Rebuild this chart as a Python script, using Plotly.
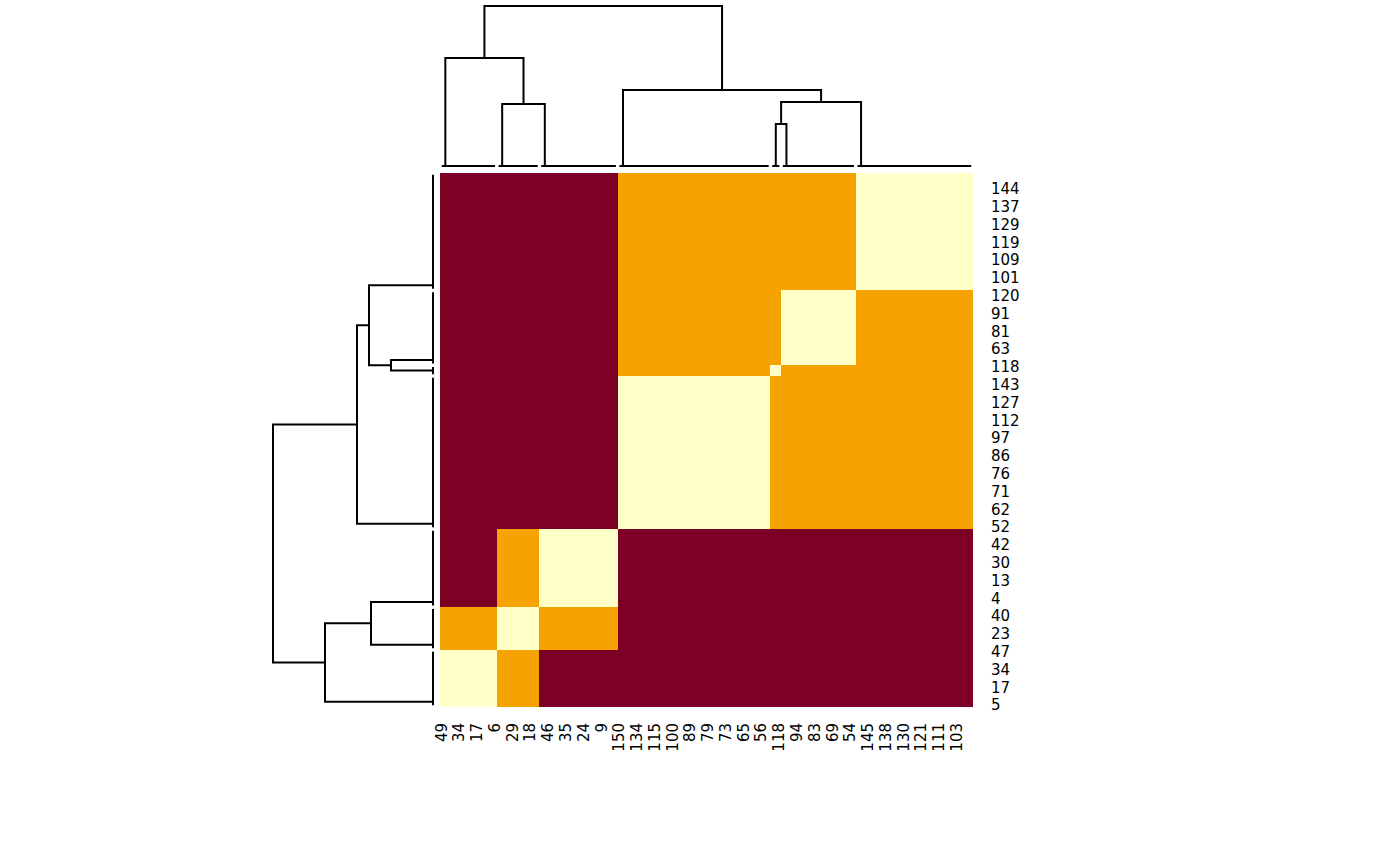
import plotly.graph_objects as go

W, H = 1400, 866

# cluster blocks in leaf order (left->right for columns, bottom->top for rows)
group_sizes = [16, 12, 22, 43, 3, 21, 33]

# block values (dissimilarity): 0 = same cluster, 1 = never together
block_values = [
    [0.0, 0.5, 1.0, 1.0, 1.0, 1.0, 1.0],
    [0.5, 0.0, 0.5, 1.0, 1.0, 1.0, 1.0],
    [1.0, 0.5, 0.0, 1.0, 1.0, 1.0, 1.0],
    [1.0, 1.0, 1.0, 0.0, 0.5, 0.5, 0.5],
    [1.0, 1.0, 1.0, 0.5, 0.0, 0.5, 0.5],
    [1.0, 1.0, 1.0, 0.5, 0.5, 0.0, 0.5],
    [1.0, 1.0, 1.0, 0.5, 0.5, 0.5, 0.0],
]

# dendrogram merges between groups: (left, right, height); new nodes are 7, 8, ...
merges = [
    (4, 5, 0.2625),
    (7, 6, 0.40),
    (3, 8, 0.475),
    (1, 2, 0.3875),
    (0, 10, 0.675),
    (11, 9, 1.0),
]

# labels that R had room to print (every 5th leaf)
col_labels = ["49", "34", "17", "6", "29", "18", "46", "35", "24", "9",
              "150", "134", "115", "100", "89", "79", "73", "65", "56", "118",
              "94", "83", "69", "54", "145", "138", "130", "121", "111", "103"]
row_labels = ["5", "17", "34", "47", "23", "40", "4", "13", "30", "42",
              "52", "62", "71", "76", "86", "97", "112", "127", "143", "118",
              "63", "81", "91", "120", "101", "109", "119", "129", "137", "144"]

colors = ["#FFFFC8", "#F6A200", "#7D0025"]

# expand block matrix to the full leaf x leaf matrix
group_of = []
for g, n in enumerate(group_sizes):
    group_of += [g] * n
n_items = len(group_of)
z = [[block_values[group_of[r]][group_of[c]] for c in range(n_items)]
     for r in range(n_items)]


def dendro_segments(sizes, merges):
    # returns lists of (pos, height) polyline pieces
    pos, hgt, segs = {}, {}, []
    start = 0
    for g, n in enumerate(sizes):
        first, last = start, start + n - 1
        segs.append([(first, 0.0), (last, 0.0)])
        pos[g] = first + 1 if n > 1 else first
        hgt[g] = 0.0
        start += n
    node = len(sizes)
    for a, b, h in merges:
        segs.append([(pos[a], hgt[a]), (pos[a], h), (pos[b], h), (pos[b], hgt[b])])
        pos[node] = (pos[a] + pos[b]) / 2
        hgt[node] = h
        node += 1
    return segs


segs = dendro_segments(group_sizes, merges)

fig = go.Figure()

fig.add_trace(go.Heatmap(
    z=z,
    x=list(range(n_items)),
    y=list(range(n_items)),
    colorscale=[[0, colors[0]], [0.25, colors[0]], [0.25, colors[1]],
                [0.75, colors[1]], [0.75, colors[2]], [1, colors[2]]],
    zmin=0, zmax=1,
    showscale=False,
    hoverinfo="skip",
    xaxis="x", yaxis="y",
))

# column dendrogram (top)
cx, cy = [], []
for s in segs:
    cx += [p for p, h in s] + [None]
    cy += [h for p, h in s] + [None]
fig.add_trace(go.Scatter(x=cx, y=cy, mode="lines",
                         line=dict(color="black", width=2),
                         hoverinfo="skip", xaxis="x2", yaxis="y2"))

# row dendrogram (left)
rx, ry = [], []
for s in segs:
    rx += [h for p, h in s] + [None]
    ry += [p for p, h in s] + [None]
fig.add_trace(go.Scatter(x=rx, y=ry, mode="lines",
                         line=dict(color="black", width=2),
                         hoverinfo="skip", xaxis="x3", yaxis="y3"))


def px_x(a, b):
    return [a / W, b / W]


def px_y(top, bottom):
    return [1 - bottom / H, 1 - top / H]


font = dict(family="DejaVu Sans", size=15, color="black")
hidden = dict(showgrid=False, zeroline=False, showticklabels=False,
              showline=False, ticks="", automargin=False)

fig.update_layout(
    template="none",
    width=W, height=H,
    margin=dict(l=0, r=0, t=0, b=0, pad=0),
    paper_bgcolor="white", plot_bgcolor="white",
    showlegend=False,
    xaxis=dict(domain=px_x(440, 973), range=[-0.5, n_items - 0.5],
               tickmode="array", tickvals=list(range(0, n_items, 5)),
               ticktext=col_labels, tickangle=-90, tickfont=font,
               ticks="", showgrid=False, zeroline=False, showline=False,
               automargin=False, ticklabelstandoff=12),
    yaxis=dict(domain=px_y(173, 707), range=[-0.5, n_items - 0.5],
               side="right", anchor="x",
               tickmode="array", tickvals=list(range(0, n_items, 5)),
               ticktext=row_labels, tickfont=font,
               ticks="", showgrid=False, zeroline=False, showline=False,
               automargin=False, ticklabelstandoff=17),
    xaxis2=dict(domain=px_x(440, 973), range=[-0.5, n_items - 0.5],
                anchor="y2", **hidden),
    yaxis2=dict(domain=px_y(2, 170), range=[-0.025, 1.025],
                anchor="x2", **hidden),
    xaxis3=dict(domain=px_x(270, 437), range=[1.01875, -0.025],
                anchor="y3", **hidden),
    yaxis3=dict(domain=px_y(173, 707), range=[-0.5, n_items - 0.5],
                anchor="x3", **hidden),
)

fig.write_html(
    "out.html",
    config={"displayModeBar": False},
    post_script="document.body.style.margin='0';document.body.style.overflow='hidden';",
)
